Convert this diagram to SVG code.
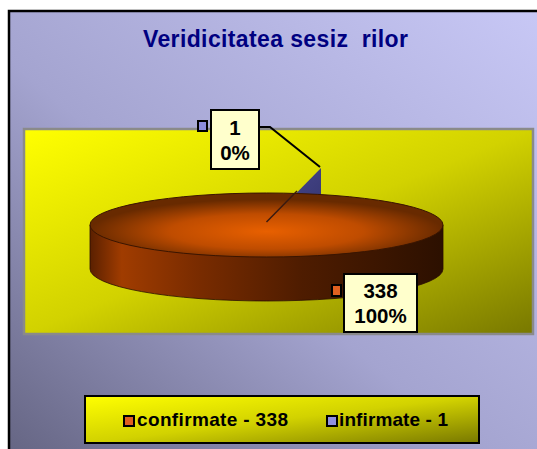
<svg xmlns="http://www.w3.org/2000/svg" width="537" height="449" viewBox="0 0 537 449">
  <defs>
    <linearGradient id="bg" x1="0" y1="1" x2="1" y2="0">
      <stop offset="0" stop-color="#5c5c78"/>
      <stop offset="0.45" stop-color="#a4a4d0"/>
      <stop offset="1" stop-color="#ccccfa"/>
    </linearGradient>
    <linearGradient id="yel" x1="0" y1="0" x2="1" y2="1">
      <stop offset="0" stop-color="#ffff00"/>
      <stop offset="0.5" stop-color="#d2d200"/>
      <stop offset="1" stop-color="#787800"/>
    </linearGradient>
    <linearGradient id="side" x1="0" y1="0" x2="1" y2="0">
      <stop offset="0" stop-color="#5a2000"/>
      <stop offset="0.09" stop-color="#a03c00"/>
      <stop offset="0.3" stop-color="#7a2c00"/>
      <stop offset="0.6" stop-color="#4e1c00"/>
      <stop offset="1" stop-color="#2c1000"/>
    </linearGradient>
    <radialGradient id="top" cx="0.5" cy="0.6" r="0.5">
      <stop offset="0" stop-color="#e86000"/>
      <stop offset="0.55" stop-color="#bf4c00"/>
      <stop offset="1" stop-color="#682a00"/>
    </radialGradient>
    <linearGradient id="blue" x1="0" y1="0" x2="1" y2="1">
      <stop offset="0" stop-color="#4a4a90"/>
      <stop offset="1" stop-color="#34346e"/>
    </linearGradient>
  </defs>
  <style>
    .t{font-family:"Liberation Sans",Arial,sans-serif;font-weight:bold}
    .lbl{fill:#ffffcc;stroke:#000;stroke-width:2}
    .lt{font-size:20.5px;fill:#000;text-anchor:middle}
    .leg{font-size:19px;fill:#000}
    .mk{stroke:#000;stroke-width:2}
  </style>

  <g id="background">
    <rect x="9" y="11" width="600" height="500" fill="url(#bg)" stroke="#000" stroke-width="2.5"/>
  </g>

  <g id="title">
    <text class="t" x="275.5" y="47" font-size="23" fill="#000080" text-anchor="middle" xml:space="preserve" textLength="265" lengthAdjust="spacing">Veridicitatea sesiz  rilor</text>
  </g>

  <g id="plot-area">
    <rect x="24" y="129" width="509" height="205" fill="url(#yel)" stroke="#8a8a8a" stroke-width="2.5"/>
  </g>

  <g id="slice-infirmate">
    <polygon points="266,224 321,168 321,205" fill="url(#blue)"/>
  </g>

  <g id="slice-confirmate">
    <path d="M90,225 L90,269 A176.5,32 0 0 0 443,269 L443,225 Z" fill="url(#side)" stroke="#2a0e00" stroke-width="0.8"/>
    <ellipse cx="266.5" cy="225" rx="176.5" ry="32" fill="url(#top)" stroke="#3a1500" stroke-width="1"/>
    <line x1="266.5" y1="222" x2="297" y2="191" stroke="#3a1a10" stroke-width="1.5"/>
  </g>

  <g id="connectors">
    <polyline points="259,127 270,127 320,167" fill="none" stroke="#000" stroke-width="2"/>
  </g>

  <g id="label-infirmate">
    <rect class="mk" x="198" y="121" width="9" height="10" fill="#8c8cdc"/>
    <rect class="lbl" x="211" y="110" width="48" height="59"/>
    <text class="t lt" x="235" y="135">1</text>
    <text class="t lt" x="235" y="160">0%</text>
  </g>

  <g id="label-confirmate">
    <rect class="mk" x="332" y="285" width="9" height="11" fill="#e06020"/>
    <rect class="lbl" x="344" y="274" width="73" height="58"/>
    <text class="t lt" x="380.5" y="298">338</text>
    <text class="t lt" x="380.5" y="323">100%</text>
  </g>

  <g id="legend">
    <rect x="85" y="396" width="394" height="47" fill="url(#yel)" stroke="#000" stroke-width="2"/>
    <rect class="mk" x="124" y="416" width="10" height="10" fill="#e06020"/>
    <text class="t leg" x="137" y="426" textLength="151" lengthAdjust="spacing">confirmate - 338</text>
    <rect class="mk" x="327" y="416" width="10" height="10" fill="#9090e0"/>
    <text class="t leg" x="339" y="426" textLength="109" lengthAdjust="spacing">infirmate - 1</text>
  </g>
</svg>
